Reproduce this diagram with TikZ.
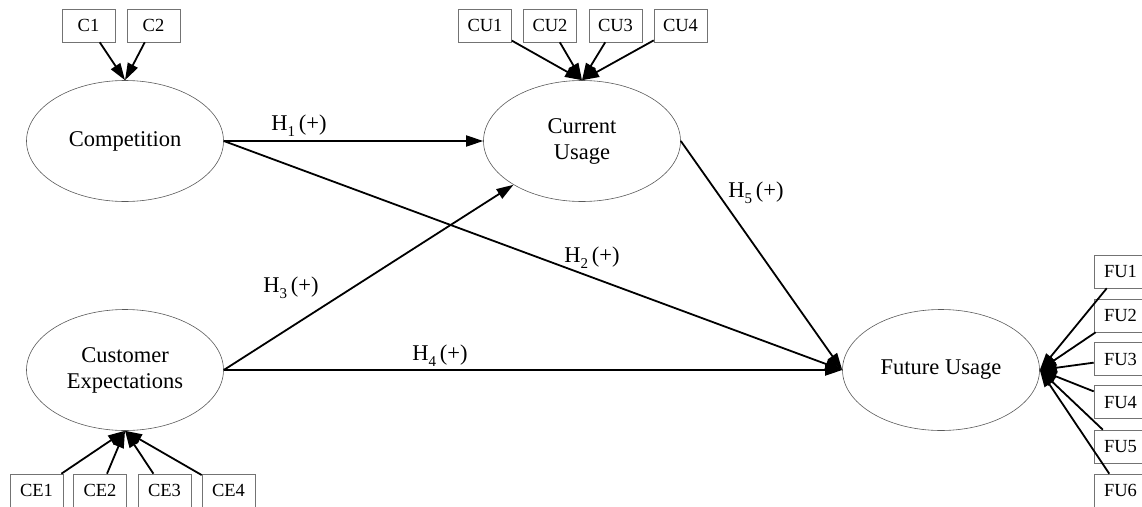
\documentclass[tikz,border=0pt]{standalone}
\usepackage{fontspec}
\setmainfont{Liberation Serif}
\usetikzlibrary{shapes.geometric,arrows.meta}
\tikzset{
  latent/.style={ellipse,draw=black!65,line width=0.6pt,minimum width=197pt,minimum height=121pt,inner sep=0pt,align=center,font=\fontsize{22.5}{26}\selectfont},
  indic/.style={rectangle,draw=black!55,line width=0.6pt,minimum width=53pt,minimum height=33pt,inner sep=0pt,font=\fontsize{18.5}{22}\selectfont},
  path/.style={line width=1.8pt,-{Triangle[length=17pt,width=11pt]}},
  hlab/.style={inner sep=0pt,font=\fontsize{22.5}{26}\selectfont}
}
\newcommand{\hyp}[1]{H\raisebox{-0.28em}{\fontsize{15}{15}\selectfont #1}\,(+)}
\begin{document}
\begin{tikzpicture}[x=1pt,y=-1pt]
\useasboundingbox (0,0) rectangle (1142,506);
% latent constructs
\node[latent] (comp) at (125,141) {Competition};
\node[latent] (cu) at (582,141) {Current\\Usage};
\node[latent] (ce) at (125,370) {Customer\\Expectations};
\node[latent] (fu) at (941,370) {Future Usage};
% indicators
\node[indic] (c1) at (88.5,25.5) {C1};
\node[indic] (c2) at (153.5,25.5) {C2};
\node[indic] (cu1) at (485,25.5) {CU1};
\node[indic] (cu2) at (550,25.5) {CU2};
\node[indic] (cu3) at (615.5,25.5) {CU3};
\node[indic] (cu4) at (680.5,25.5) {CU4};
\node[indic] (ce1) at (36.5,490.5) {CE1};
\node[indic] (ce2) at (100,490.5) {CE2};
\node[indic] (ce3) at (164.5,490.5) {CE3};
\node[indic] (ce4) at (228.5,490.5) {CE4};
\node[indic] (fu1) at (1120.5,271.5) {FU1};
\node[indic] (fu2) at (1120.5,315.5) {FU2};
\node[indic] (fu3) at (1120.5,359) {FU3};
\node[indic] (fu4) at (1120.5,402) {FU4};
\node[indic] (fu5) at (1120.5,446.5) {FU5};
\node[indic] (fu6) at (1120.5,490.5) {FU6};
% indicator arrows
\foreach \i in {c1,c2} \draw[path] (\i) -- (comp.north);
\foreach \i in {cu1,cu2,cu3,cu4} \draw[path] (\i) -- (cu.north);
\foreach \i in {ce1,ce2,ce3,ce4} \draw[path] (\i) -- (ce.south);
\foreach \i in {fu1,fu2,fu3,fu4,fu5,fu6} \draw[path] (\i) -- (fu.east);
% structural paths
\draw[path] (comp.east) -- (cu.west);
\draw[path] (comp.east) -- (fu.west);
\draw[path] (ce.east) -- (cu);
\draw[path] (ce.east) -- (fu.west);
\draw[path] (cu.east) -- (fu.west);
% labels
\node[hlab] (h1) at (299,126) {\hyp{1}};
\node[hlab] (h2) at (592,258) {\hyp{2}};
\node[hlab] (h3) at (291,288) {\hyp{3}};
\node[hlab] (h4) at (440,356) {\hyp{4}};
\node[hlab] (h5) at (756,193) {\hyp{5}};
\end{tikzpicture}
\end{document}
